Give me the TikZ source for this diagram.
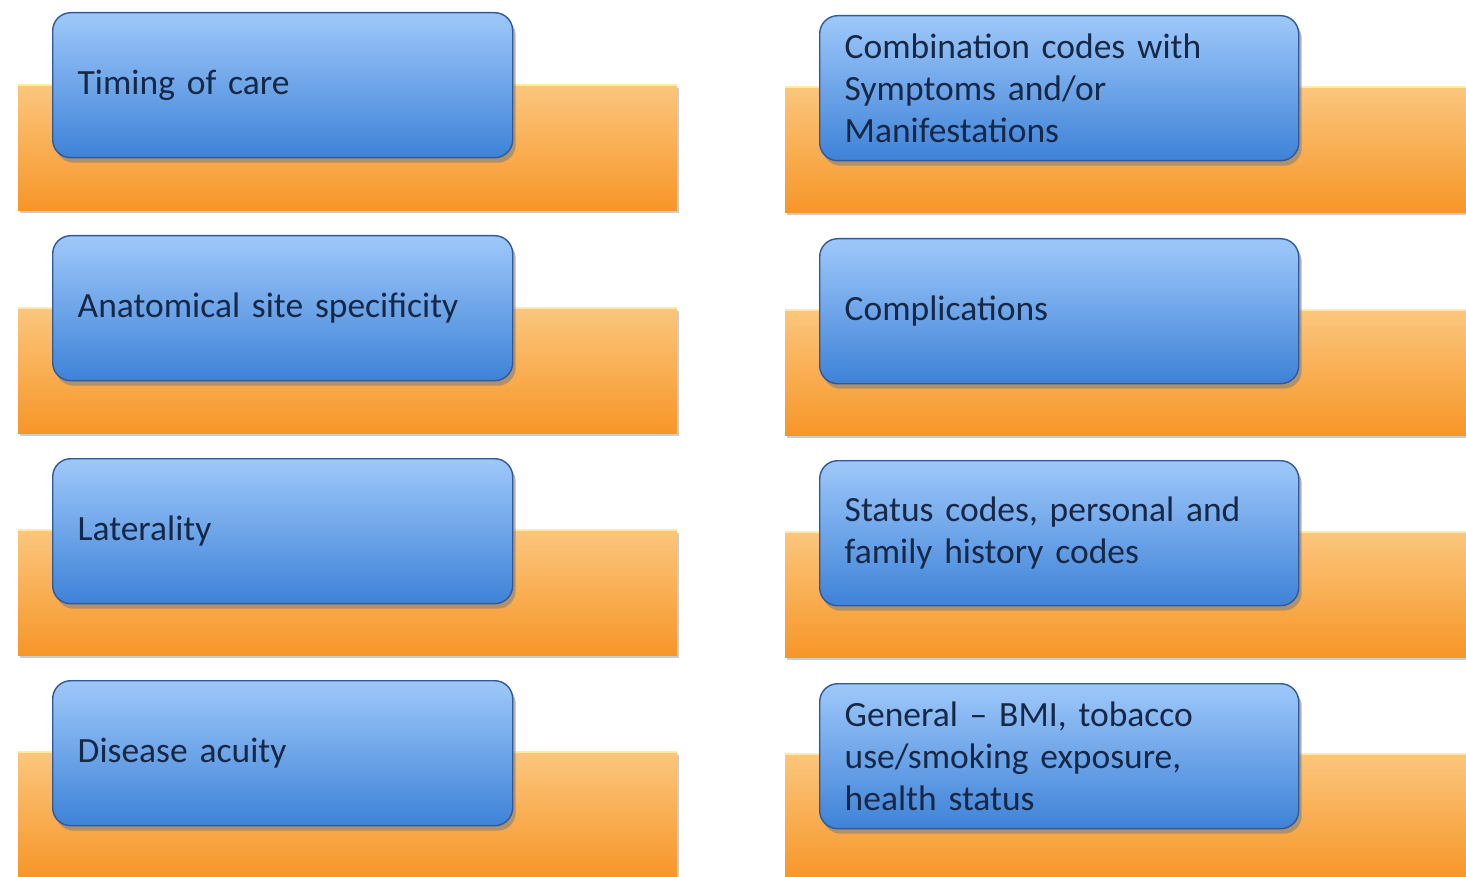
\documentclass[tikz,border=0pt]{standalone}
\usepackage{fontspec}
\setmainfont{Carlito}
\usetikzlibrary{shadows}
\definecolor{otop}{RGB}{251,198,125}
\definecolor{obot}{RGB}{247,150,40}
\definecolor{btop}{RGB}{158,200,250}
\definecolor{bbot}{RGB}{62,130,215}
\definecolor{bedge}{RGB}{50,88,150}
\definecolor{txt}{RGB}{22,40,70}
\definecolor{hilite}{RGB}{255,236,160}
\tikzset{
  orangebar/.style={anchor=north west, inner sep=0pt, top color=otop, bottom color=obot,
    draw=none, minimum height=125pt, drop shadow={shadow xshift=1.5pt, shadow yshift=-2.5pt, opacity=0.4}},
  bluebox/.style={anchor=north west, rounded corners=18pt, top color=btop, bottom color=bbot,
    draw=bedge, line width=1.4pt, minimum height=145pt, inner xsep=25pt, inner ysep=0pt,
    align=left, text=txt, font=\fontsize{35.5}{42}\selectfont,
    drop shadow={shadow xshift=3pt, shadow yshift=-5pt, opacity=0.6}},
  leftbox/.style={bluebox, text width=410pt},
  rightbox/.style={bluebox, text width=429pt},
  leftbar/.style={orangebar, minimum width=659pt},
  rightbar/.style={orangebar, minimum width=690pt},
}
\begin{document}
\begin{tikzpicture}[x=1pt,y=-1pt]
\fill[white] (0,0) rectangle (1466,877);
\useasboundingbox (0,0) rectangle (1466,877);
% left column
\node[leftbar] (lo1) at (18,85) {};
\node[leftbar] (lo2) at (18,308) {};
\node[leftbar] (lo3) at (18,530) {};
\node[leftbar] (lo4) at (18,752) {};
% right column
\node[rightbar] (ro1) at (785,87) {};
\node[rightbar] (ro2) at (785,310) {};
\node[rightbar] (ro3) at (785,532) {};
\node[rightbar] (ro4) at (785,754) {};
\foreach \n in {lo1,lo2,lo3,lo4,ro1,ro2,ro3,ro4}
  \draw[hilite, line width=2.5pt] (\n.north west) -- (\n.north east);
% blue boxes
\node[leftbox] (lb1) at (52,12) {Timing of care};
\node[leftbox] (lb2) at (52,235) {Anatomical site specificity};
\node[leftbox] (lb3) at (52,458) {Laterality};
\node[leftbox] (lb4) at (52,680) {Disease acuity};
\node[rightbox] (rb1) at (819,15) {Combination codes with\\Symptoms and/or\\Manifestations};
\node[rightbox] (rb2) at (819,238) {Complications};
\node[rightbox] (rb3) at (819,460) {Status codes, personal and\\family history codes};
\node[rightbox] (rb4) at (819,683) {General -- BMI, tobacco\\use/smoking exposure,\\health status};
\end{tikzpicture}
\end{document}
